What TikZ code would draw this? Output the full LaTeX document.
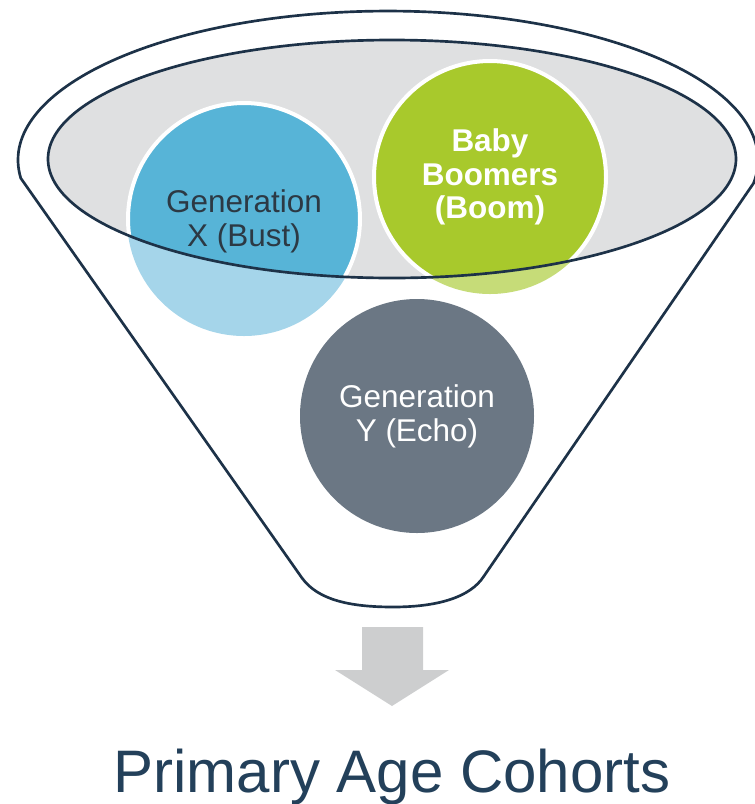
\documentclass[tikz,border=0pt]{standalone}
\usepackage{fontspec}
\setmainfont{Liberation Sans}
\definecolor{funnelline}{HTML}{1D3248}
\definecolor{rimgray}{HTML}{DFE0E1}
\definecolor{genxblue}{HTML}{57B4D7}
\definecolor{genxpale}{HTML}{A5D5EA}
\definecolor{boomgreen}{HTML}{A8C92C}
\definecolor{boompale}{HTML}{C6DC78}
\definecolor{genygray}{HTML}{6B7784}
\definecolor{arrowgray}{HTML}{CDCECF}
\definecolor{titleblue}{HTML}{23405A}
\definecolor{darktext}{HTML}{2C3944}
\tikzset{
	funnel/.style={draw=funnelline, line width=2pt},
	label/.style={align=center, font=\fontsize{23.6}{25.5}\selectfont},
	boldlabel/.style={label, font=\fontsize{23.6}{25}\selectfont\bfseries},
	solid disc/.style={draw=white, line width=3pt}}

\begin{document}
\begin{tikzpicture}[x=0.75pt, y=-0.75pt]
	\useasboundingbox (0,0) rectangle (754,804);
	\coordinate (rim) at (392,159);
	\coordinate (genx) at (244,219);
	\coordinate (boom) at (490,177);
	\coordinate (geny) at (417,416);
	
	% funnel body
	\draw[funnel, fill=white] (20.8,178.2) arc[start angle=173, end angle=369, x radius=370, y radius=149]
		-- (484,576) .. controls (470,598) and (436,607) .. (393,607)
		.. controls (350,607) and (318,600) .. (302,578) -- cycle;
	
	\fill[rimgray] (rim) ellipse[x radius=344, y radius=119];
	
	% parts below the rim
	\fill[genxpale] (genx) circle[radius=117];
	\fill[boompale] (boom) circle[radius=117];
	
	\begin{scope}
		\clip (rim) ellipse[x radius=344, y radius=119];
		\filldraw[genxblue, solid disc] (genx) circle[radius=116];
		\filldraw[boomgreen, solid disc] (boom) circle[radius=116];
	\end{scope}
	
	\draw[funnel] (rim) ellipse[x radius=344, y radius=119];
	
	\fill[genygray] (geny) circle[radius=117];
	
	\node[label, text=darktext] (genxtext) at ([yshift=-2]genx) {Generation\\X (Bust)};
	\node[boldlabel, text=white] (boomtext) at (boom) {Baby\\Boomers\\(Boom)};
	\node[label, text=white] (genytext) at (geny) {Generation\\Y (Echo)};
	
	% down arrow
	\fill[arrowgray] (362,627) -- (423,627) -- (423,670) -- (449,670) -- (392,706)
		-- (335,670) -- (362,670) -- cycle;
	
	\node[anchor=base, text=titleblue, font=\fontsize{45}{45}\selectfont] (title) at (392,792) {Primary Age Cohorts};
\end{tikzpicture}
\end{document}
